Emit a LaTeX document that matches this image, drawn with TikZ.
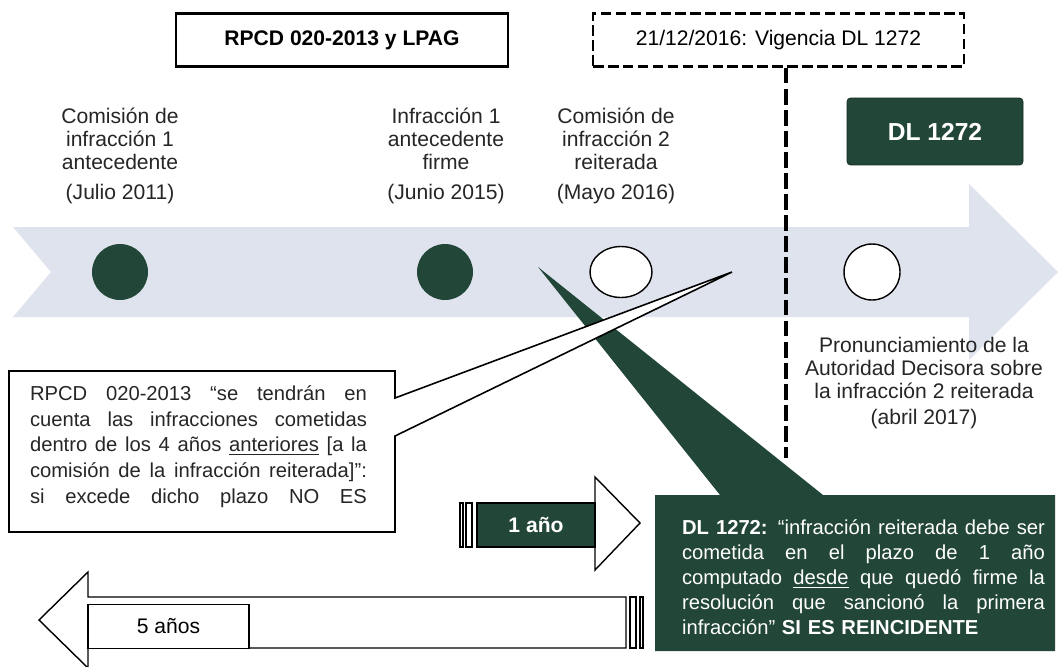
\documentclass[tikz,border=0pt]{standalone}
\usepackage{fontspec}
\setmainfont{Liberation Sans}
\usetikzlibrary{shapes.geometric}

\definecolor{banda}{RGB}{222,227,237}
\definecolor{verde}{RGB}{34,70,56}

% una linea justificada a todo el ancho
\newcommand{\linj}[2]{\hbox to #1{\spaceskip=0.25em plus 1fil\relax #2}}

\begin{document}
\begin{tikzpicture}[x=0.02cm,y=-0.02cm,
    hito/.style={circle,inner sep=0pt,minimum size=1.12cm},
    etiqueta/.style={align=center,text=black!85,font=\fontsize{12}{13}\selectfont},
    marco/.style={draw,inner sep=0pt,minimum height=1.06cm,font=\fontsize{12}{14}\selectfont},
    rayas/.style={draw,fill=white,line width=0.6pt}]

  \useasboundingbox[fill=white] (0,0) rectangle (1060,666);

  % linea de tiempo
  \fill[banda] (13,227) -- (969,227) -- (969,184) -- (1058,272) -- (969,360)
    -- (969,317) -- (13,317) -- (51,272) -- cycle;

  \node[marco,line width=1.4pt,minimum width=6.64cm,font=\fontsize{12}{14}\selectfont\bfseries] (rpcd) at (342,40) {RPCD 020-2013 y LPAG};
  \node[marco,line width=1.3pt,dash pattern=on 6pt off 2.5pt,minimum width=7.42cm] (vig) at (778.5,40) {21/12/2016: Vigencia DL 1272};
  \coordinate (finvig) at (786,458);
  \draw[line width=2.2pt,dash pattern=on 9pt off 3pt] (vig.south -| finvig) -- (finvig);

  \begin{scope}[line width=0.8pt]
    \node[hito,fill=verde] (c1) at (120,272) {};
    \node[hito,fill=verde] (c2) at (445,272) {};
    \node[ellipse,draw,fill=white,inner sep=0pt,minimum width=1.24cm,minimum height=1.02cm] (c3) at (621,272) {};
    \node[hito,draw,fill=white] (c4) at (872,272) {};
  \end{scope}

  \node[etiqueta] (e1) at (120,156) {Comisión de\\infracción 1\\antecedente\\[4pt](Julio 2011)};
  \node[etiqueta] (e2) at (446,156) {Infracción 1\\antecedente\\firme\\[4pt](Junio 2015)};
  \node[etiqueta] (e3) at (616,156) {Comisión de\\infracción 2\\reiterada\\[4pt](Mayo 2016)};
  \node[etiqueta] (e4) at (924,383) {Pronunciamiento de la\\Autoridad Decisora sobre\\la infracción 2 reiterada\\[2pt](abril 2017)};

  \node[fill=verde,draw=verde!60!black,rounded corners=2pt,minimum width=3.52cm,minimum height=1.34cm,
    text=white,font=\fontsize{14}{16}\selectfont\bfseries] (dl) at (935,131.5) {DL 1272};

  % llamada verde
  \coordinate (pv) at (538,267);
  \fill[verde] (655,495) -- (720,495) -- (pv) -- (823,495) -- (1055,495) -- (1055,651) -- (655,651) -- cycle;
  \node[text width=7.26cm,inner sep=0pt,text=white,font=\fontsize{11.5}{14.2}\selectfont] (txdl) at (863.5,577.5) {%
    \linj{7.26cm}{\textbf{DL 1272:} “infracción reiterada debe ser}
    \linj{7.26cm}{cometida en el plazo de 1 año}
    \linj{7.26cm}{computado \underline{desde} que quedó firme la}
    \linj{7.26cm}{resolución que sancionó la primera}
    \hbox{infracción” \textbf{SI ES REINCIDENTE}}};

  % llamada blanca
  \coordinate (pb) at (732,272);
  \draw[fill=white,line width=0.9pt] (9,371) -- (395,371) -- (395,398) -- (pb) -- (395,436)
    -- (395,532) -- (9,532) -- cycle;
  \node[text width=6.74cm,inner sep=0pt,text=black!85,font=\fontsize{11.5}{14.6}\selectfont] (txrpcd) at (198.5,446.5) {%
    \linj{6.74cm}{RPCD 020-2013 “se tendrán en}
    \linj{6.74cm}{cuenta las infracciones cometidas}
    \linj{6.74cm}{dentro de los 4 años \underline{anteriores} [a la}
    \linj{6.74cm}{comisión de la infracción reiterada]”:}
    \linj{6.74cm}{si excede dicho plazo NO ES}};

  % flecha 1 año
  \draw[fill=white,line width=0.8pt] (477,503) -- (595,503) -- (595,477) -- (640,523) -- (595,570)
    -- (595,547) -- (477,547) -- cycle;
  \draw[rayas] (460,503) rectangle (463,547) (466,503) rectangle (472,547);
  \node[fill=verde,draw=black,line width=0.6pt,minimum width=2.36cm,minimum height=0.88cm,inner sep=0pt,
    text=white,font=\fontsize{12}{14}\selectfont\bfseries] (uno) at (536,525) {1 año};

  % flecha 5 años
  \draw[fill=white,line width=0.8pt] (39,620) -- (88,572) -- (88,597) -- (626,597) -- (626,648)
    -- (88,648) -- (88,668) -- cycle;
  \draw[rayas] (630,597) rectangle (636,648) (640,597) rectangle (643,648);
  \node[draw,fill=white,line width=0.8pt,minimum width=3.22cm,minimum height=0.88cm,inner sep=0pt,
    font=\fontsize{12}{14}\selectfont] (cinco) at (168.5,626.5) {5 años};

\end{tikzpicture}
\end{document}
